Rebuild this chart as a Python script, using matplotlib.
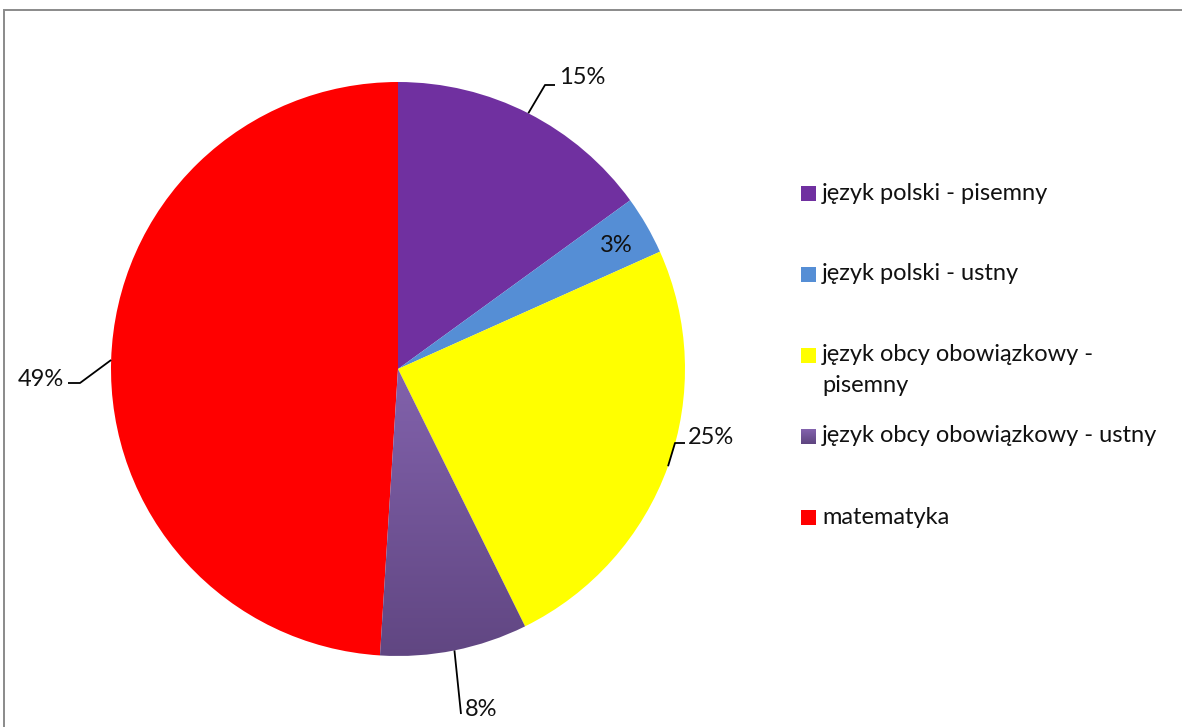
import numpy as np
import matplotlib
matplotlib.use("Agg")
import matplotlib.pyplot as plt
from matplotlib.patches import Rectangle
from matplotlib.colors import LinearSegmentedColormap

plt.rcParams['font.family'] = ['Lato', 'DejaVu Sans']

categories = ["język polski - pisemny", "język polski - ustny",
              "język obcy obowiązkowy -\npisemny",
              "język obcy obowiązkowy - ustny", "matematyka"]
values = [15.0, 3.3, 24.4, 8.3, 49.0]
colors = ["#7030A0", "#558ED5", "#FFFF00", "#7A5BA3", "#FF0000"]
pct_labels = ["15%", "3%", "25%", "8%", "49%"]

W, H = 1182, 727
fig = plt.figure(figsize=(W / 100, H / 100), dpi=100)

# outer frame
fig.patches.append(Rectangle((3.5 / W, -0.1), 1.2, 1 - 9.5 / H + 0.1,
                             transform=fig.transFigure, fill=False,
                             edgecolor="#8a8a8a", linewidth=1.4))

cx, cy, R = 398, 369, 287
ax = fig.add_axes([(cx - R) / W, (H - cy - R) / H, 2 * R / W, 2 * R / H])
ax.set_aspect("equal")

wedges, _ = ax.pie(values, colors=colors, startangle=90, counterclock=False,
                   radius=1.0, wedgeprops=dict(linewidth=0))

grad_cmap = LinearSegmentedColormap.from_list("g", ["#8262AC", "#5F4580"])

# gradient on the 4th slice
w = wedges[3]
grad = np.linspace(0, 1, 256).reshape(-1, 1)
im = ax.imshow(grad, cmap=grad_cmap, extent=(-0.2, 0.6, -1.05, 0.0),
               origin="upper", aspect="auto", zorder=w.get_zorder() + 0.1)
im.set_clip_path(w)
w.set_facecolor("none")

ax.set_xlim(-1, 1)
ax.set_ylim(-1, 1)
ax.axis("off")

fs = 17
def px(x, y):
    return ((x - cx) / R, (cy - y) / R)

cum = np.cumsum([0] + values)
total = sum(values)
mids = [(cum[i] + cum[i + 1]) / 2 / total * 360 for i in range(len(values))]

def edge(i):
    a = np.deg2rad(mids[i])
    return (np.sin(a), np.cos(a))

lab_spec = {
    0: dict(path=[(545, 85), (555, 85)], text=(559, 78), ha="left"),
    2: dict(path=[(675, 443), (685, 443)], text=(688, 438), ha="left"),
    3: dict(path=[(461, 714)], text=(465, 710), ha="left"),
    4: dict(path=[(80, 383), (68, 383)], text=(64, 380), ha="right"),
}
for i, spec in lab_spec.items():
    pts = [edge(i)] + [px(*p) for p in spec["path"]]
    xs, ys = zip(*pts)
    ax.plot(xs, ys, color="black", linewidth=1.3, clip_on=False,
            solid_capstyle="butt")
    tx, ty = px(*spec["text"])
    ax.text(tx, ty, pct_labels[i], ha=spec["ha"], va="center", fontsize=fs,
            color="#111111")

tx, ty = px(616, 245)
ax.text(tx, ty, pct_labels[1], ha="center", va="center", fontsize=fs,
        color="#111111")

# legend (Excel-style: evenly spaced entries, wrapped text hangs down)
y0, dy = 193, 81
sq = 15
line_gap = 30
for i, (lab, col) in enumerate(zip(categories, colors)):
    yc = y0 + dy * i
    if i == 3:
        fig.figimage(np.tile(np.linspace(0, 1, sq).reshape(-1, 1), (1, sq)),
                     xo=801, yo=int(H - yc - sq / 2), cmap=grad_cmap,
                     origin="upper", zorder=3)
    else:
        fig.patches.append(Rectangle((801 / W, (H - yc - sq / 2) / H),
                                     sq / W, sq / H, transform=fig.transFigure,
                                     facecolor=col, edgecolor="none"))
    nlines = lab.count("\n") + 1
    ytext = yc + (nlines - 1) * line_gap / 2
    fig.text(822 / W, (H - ytext) / H, lab, ha="left", va="center",
             fontsize=fs, color="#111111", linespacing=1.55)

fig.savefig("out.png", dpi=100)
